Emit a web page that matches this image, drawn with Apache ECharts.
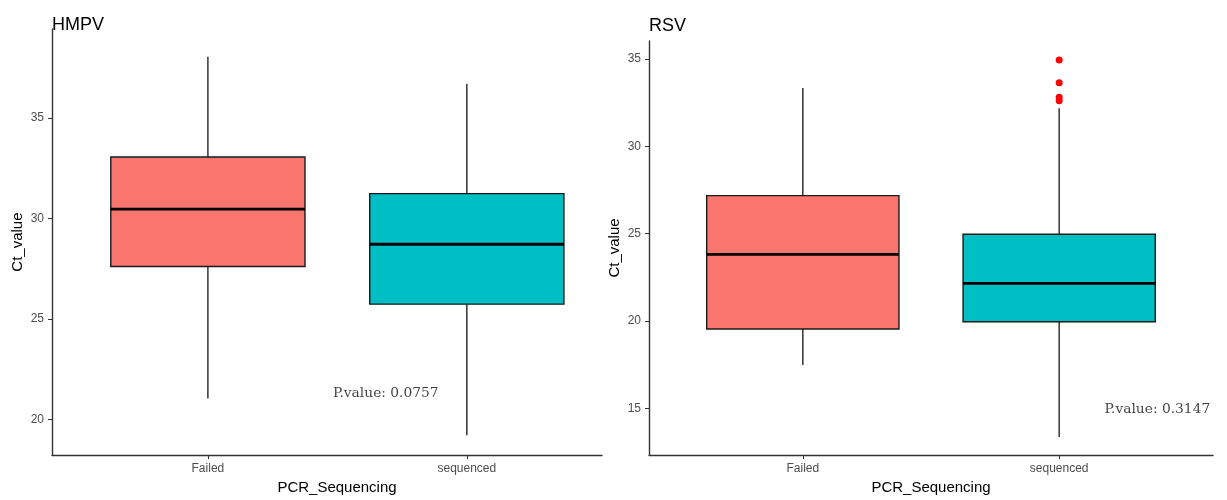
<!DOCTYPE html>
<html>
<head>
<meta charset="utf-8">
<script src="https://cdn.jsdelivr.net/npm/echarts@6/dist/echarts.min.js"></script>
<style>html,body{margin:0;padding:0;background:#fff}#c{width:1227px;height:500px}</style>
</head>
<body>
<div id="c"></div>
<script>
// ---- data ----
const categories = ['Failed', 'sequenced'];
const panelTitles = ['HMPV', 'RSV'];
// [lower whisker, Q1, median, Q3, upper whisker]
const hmpvFailed = [21.04, 27.6, 30.46, 33.05, 38.04];
const hmpvSequenced = [19.21, 25.73, 28.71, 31.23, 36.7];
const rsvFailed = [17.48, 19.54, 23.82, 27.18, 33.34];
const rsvSequenced = [13.36, 19.96, 22.16, 24.97, 32.18];
const rsvSequencedOutliers = [34.94, 33.64, 32.81, 32.61];
const hmpvTicks = [20, 25, 30, 35];
const rsvTicks = [15, 20, 25, 30, 35];
const pLabels = ['P.value: 0.0757', 'P.value: 0.3147'];
// annotation anchor in data units [x, y]
const pAnchors = [[1.687, 21.29], [2.383, 14.96]];

const fills = ['#F8766D', '#00BFC4'];
const fontSans = '"Liberation Sans", Helvetica, Arial, sans-serif';
const fontSerif = '"DejaVu Serif", serif';

function boxData(arrs) {
  return arrs.map((a, i) => [i + 1].concat(a));
}
function renderBox(params, api) {
  const x = api.value(0);
  const lo = api.value(1), q1 = api.value(2), med = api.value(3), q3 = api.value(4), hi = api.value(5);
  const hw = 0.375;
  const pL = api.coord([x - hw, q3]);
  const pR = api.coord([x + hw, q1]);
  const c = api.coord([x, med]);
  const pLo = api.coord([x, lo]);
  const pHi = api.coord([x, hi]);
  const pQ1 = api.coord([x, q1]);
  const pQ3 = api.coord([x, q3]);
  const fill = fills[x - 1];
  return {
    type: 'group',
    children: [
      {type: 'line', shape: {x1: pHi[0], y1: pHi[1], x2: pQ3[0], y2: pQ3[1]}, style: {stroke: '#333', lineWidth: 1.5}},
      {type: 'line', shape: {x1: pLo[0], y1: pLo[1], x2: pQ1[0], y2: pQ1[1]}, style: {stroke: '#333', lineWidth: 1.5}},
      {type: 'rect', shape: {x: pL[0], y: pL[1], width: pR[0] - pL[0], height: pR[1] - pL[1]}, style: {fill: fill, stroke: '#1a1a1a', lineWidth: 1.4}},
      {type: 'line', shape: {x1: pL[0], y1: c[1], x2: pR[0], y2: c[1]}, style: {stroke: '#000', lineWidth: 2.8}}
    ]
  };
}

function xAxis(idx, min, max) {
  return {
    type: 'value', gridIndex: idx, min: min, max: max,
    name: 'PCR_Sequencing', nameLocation: 'middle', nameGap: 22,
    nameTextStyle: {fontSize: 15, color: '#000', fontFamily: fontSans, padding: idx === 0 ? [0, 0, 0, 20] : 0},
    axisLine: {lineStyle: {color: '#333', width: 1.4}},
    axisTick: {length: 4, customValues: [1, 2], lineStyle: {color: '#333'}},
    axisLabel: {customValues: [1, 2], formatter: v => categories[Math.round(v) - 1], color: '#4d4d4d', fontSize: 12, fontFamily: fontSans, margin: 8},
    splitLine: {show: false}
  };
}
function yAxis(idx, min, max, ticks) {
  return {
    type: 'value', gridIndex: idx, min: min, max: max,
    name: 'Ct_value', nameLocation: 'middle', nameGap: 27, nameRotate: 90,
    nameTextStyle: {fontSize: 15, color: '#000', fontFamily: fontSans},
    axisLine: {show: true, lineStyle: {color: '#333', width: 1.4}},
    axisTick: {show: true, length: 4, customValues: ticks, lineStyle: {color: '#333'}},
    axisLabel: {customValues: ticks, color: '#4d4d4d', fontSize: 12, fontFamily: fontSans, margin: 8},
    splitLine: {show: false}
  };
}

const chart = echarts.init(document.getElementById('c'), null, {renderer: 'canvas'});
chart.setOption({
  animation: false,
  backgroundColor: '#fff',
  title: [
    {text: panelTitles[0], left: 47, top: 11, textStyle: {fontSize: 18, fontWeight: 'normal', color: '#000', fontFamily: fontSans}},
    {text: panelTitles[1], left: 644, top: 12, textStyle: {fontSize: 18, fontWeight: 'normal', color: '#000', fontFamily: fontSans}}
  ],
  grid: [
    {left: 52, right: 625, top: 29, bottom: 43},
    {left: 649, right: 14, top: 41, bottom: 45}
  ],
  xAxis: [xAxis(0, 0.398, 2.522), xAxis(1, 0.4, 2.6)],
  yAxis: [yAxis(0, 18.22, 39.42, hmpvTicks), yAxis(1, 12.33, 36.03, rsvTicks)],
  series: [
    {type: 'custom', xAxisIndex: 0, yAxisIndex: 0, renderItem: renderBox,
     encode: {x: 0, y: [1, 2, 3, 4, 5]}, data: boxData([hmpvFailed, hmpvSequenced])},
    {type: 'custom', xAxisIndex: 1, yAxisIndex: 1, renderItem: renderBox,
     encode: {x: 0, y: [1, 2, 3, 4, 5]}, data: boxData([rsvFailed, rsvSequenced])},
    {type: 'scatter', xAxisIndex: 1, yAxisIndex: 1, symbolSize: 7,
     itemStyle: {color: '#ff0000', opacity: 1},
     data: rsvSequencedOutliers.map(v => [2, v])},
    {type: 'scatter', xAxisIndex: 0, yAxisIndex: 0, symbolSize: 0,
     label: {show: true, position: 'inside', formatter: () => pLabels[0], color: '#111', fontSize: 13.8, fontFamily: fontSerif},
     data: [pAnchors[0]]},
    {type: 'scatter', xAxisIndex: 1, yAxisIndex: 1, symbolSize: 0,
     label: {show: true, position: 'inside', formatter: () => pLabels[1], color: '#111', fontSize: 13.8, fontFamily: fontSerif},
     data: [pAnchors[1]]}
  ]
});
</script>
</body>
</html>
